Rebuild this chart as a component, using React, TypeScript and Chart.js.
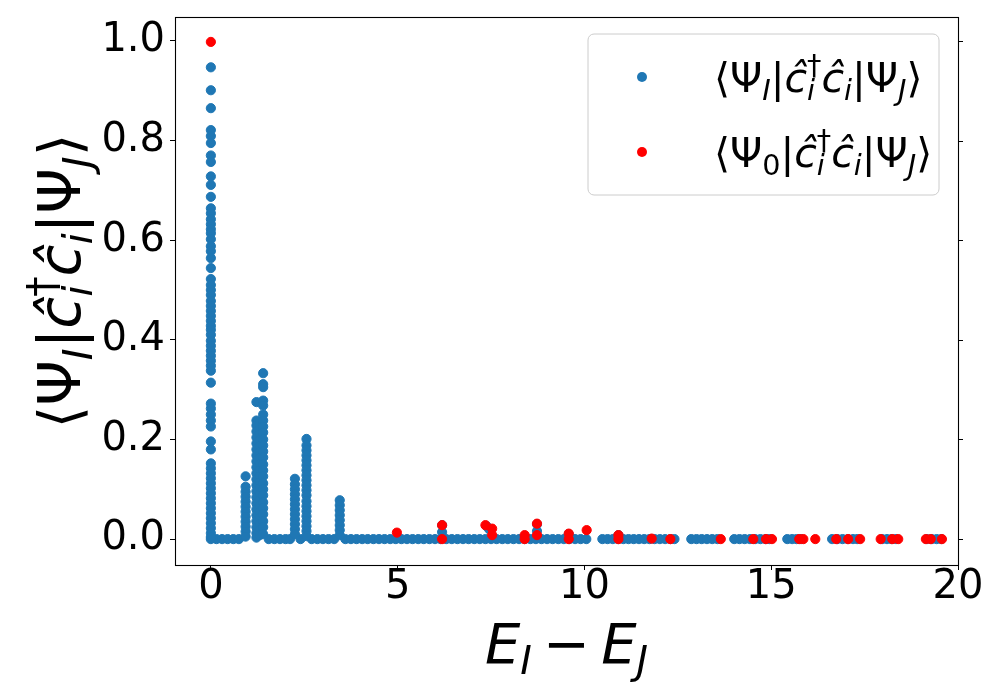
import { useEffect, useRef } from "react";
import { Chart, registerables } from "chart.js";
Chart.register(...registerables);

const BLUE = "#1f77b4";
const RED = "#ff0000";
const FONT = '"DejaVu Sans", sans-serif';

const xTickValues = [0, 5, 10, 15, 20];
const yTickValues = [0, 0.2, 0.4, 0.6, 0.8, 1.0];

// Blue series: vertical columns of matrix elements at given energy differences
const col0Y = [0.947, 0.901, 0.865, 0.821, 0.809, 0.795, 0.770, 0.757, 0.728, 0.711, 0.687, 0.664, 0.654, 0.642, 0.632, 0.622, 0.614, 0.602, 0.588, 0.578, 0.564, 0.544, 0.522, 0.510, 0.500, 0.490, 0.478, 0.468, 0.458, 0.448, 0.438, 0.428, 0.420, 0.410, 0.398, 0.388, 0.378, 0.368, 0.358, 0.348, 0.338, 0.314, 0.272, 0.262, 0.250, 0.238, 0.226, 0.196, 0.180, 0.152, 0.142, 0.132, 0.122, 0.112, 0.102, 0.092, 0.082, 0.072, 0.062, 0.052, 0.042, 0.032, 0.022, 0.012, 0.004];
const peakAY = [0.126, 0.105, 0.095, 0.085, 0.075, 0.065, 0.055, 0.045, 0.035, 0.025, 0.015, 0.005];
const peakB1Y = [0.275, 0.238, 0.228, 0.216, 0.204, 0.192, 0.180, 0.168, 0.156, 0.144, 0.132, 0.120, 0.108, 0.096, 0.084, 0.072, 0.060, 0.048, 0.036, 0.024, 0.012, 0.003];
const peakB2Y = [0.232, 0.220, 0.210, 0.198, 0.186, 0.174, 0.162, 0.150, 0.138, 0.126, 0.114, 0.102, 0.090, 0.078, 0.066, 0.054, 0.042, 0.030, 0.018, 0.008];
const peakB3Y = [0.333, 0.311, 0.305, 0.278, 0.268, 0.250, 0.238, 0.226, 0.214, 0.200, 0.188, 0.176, 0.164, 0.150, 0.138, 0.126, 0.112, 0.100, 0.088, 0.074, 0.062, 0.050, 0.036, 0.024, 0.010];
const peakCY = [0.121, 0.110, 0.100, 0.090, 0.080, 0.070, 0.060, 0.050, 0.040, 0.030, 0.020, 0.010];
const peakDY = [0.201, 0.188, 0.178, 0.168, 0.158, 0.148, 0.138, 0.128, 0.118, 0.108, 0.098, 0.088, 0.076, 0.066, 0.056, 0.046, 0.036, 0.026, 0.016, 0.006];
const peakEY = [0.078, 0.068, 0.058, 0.048, 0.038, 0.028, 0.018, 0.008];
const peakX = { col0: 0, A: 0.93, B1: 1.22, B2: 1.31, B3: 1.40, C: 2.25, D: 2.56, E: 3.45 };

const smallBlueX = [6.19, 6.19, 7.38, 7.45, 8.73, 8.73, 9.58, 10.91];
const smallBlueY = [0.028, 0.014, 0.026, 0.020, 0.030, 0.016, 0.010, 0.008];

// Blue baseline (near-zero elements)
const baseX = [0, 0.15, 0.3, 0.45, 0.6, 0.75, 1.55, 1.7, 1.85, 2.0, 2.12, 2.4, 2.7, 2.85, 3.0, 3.15, 3.3, 3.6, 3.75, 3.9, 4.05, 4.2, 4.35, 4.5, 4.65, 4.8, 4.95, 5.1, 5.25, 5.4, 5.55, 5.7, 5.85, 6.0, 6.15, 6.3, 6.45, 6.6, 6.75, 6.9, 7.05, 7.2, 7.35, 7.5, 7.65, 7.8, 7.95, 8.1, 8.25, 8.4, 8.55, 8.7, 8.85, 9.0, 9.15, 9.3, 9.45, 9.6, 9.75, 9.9, 10.05,
  10.48, 10.62, 10.76, 10.9, 11.04, 11.18, 11.32, 11.46, 11.6, 11.74, 11.88, 12.02, 12.16, 12.3, 12.41,
  12.86, 13.0, 13.14, 13.28, 13.42, 13.56,
  14.01, 14.15, 14.29, 14.43, 14.57, 14.71, 14.85, 14.95,
  15.43, 15.56, 15.68, 15.8,
  16.63, 16.77, 16.91, 17.05, 17.19, 17.3,
  17.97, 18.1, 18.22, 18.34,
  19.17, 19.3, 19.43, 19.55];

// Red series
const redX = [0, 4.98, 6.19, 6.19, 7.35, 7.53, 7.53, 8.40, 8.40, 8.73, 8.73, 9.58, 9.58, 10.06, 10.91, 10.91, 11.80, 12.30, 13.65, 14.52, 14.86, 15.02, 15.75, 15.86, 16.18, 16.74, 17.06, 17.38, 17.93, 18.24, 18.40, 19.14, 19.27, 19.57];
const redY = [0.998, 0.013, 0.028, 0.0, 0.028, 0.021, 0.008, 0.008, 0.0, 0.031, 0.008, 0.011, 0.0, 0.018, 0.008, 0.0, 0.001, 0.0, 0.0, 0.0, 0.0, 0.0, 0.0, 0.0, 0.0, 0.0, 0.0, 0.0, 0.0, 0.0, 0.0, 0.0, 0.0, 0.0];

type Part = { t: string; it?: boolean; sub?: string; subIt?: boolean; sup?: string };

const legendRows: { color: string; parts: Part[] }[] = [
  { color: BLUE, parts: [{ t: "⟨" }, { t: "Ψ", sub: "I", subIt: true }, { t: "|" }, { t: "ĉ", it: true, sup: "†", sub: "i", subIt: true }, { t: "ĉ", it: true, sub: "i", subIt: true }, { t: "|" }, { t: "Ψ", sub: "J", subIt: true }, { t: "⟩" }] },
  { color: RED, parts: [{ t: "⟨" }, { t: "Ψ", sub: "0" }, { t: "|" }, { t: "ĉ", it: true, sup: "†", sub: "i", subIt: true }, { t: "ĉ", it: true, sub: "i", subIt: true }, { t: "|" }, { t: "Ψ", sub: "J", subIt: true }, { t: "⟩" }] },
];
const yTitleParts: Part[] = legendRows[0].parts;
const xTitleParts: Part[] = [{ t: "E", it: true, sub: "I", subIt: true }, { t: "\u2009−\u2009" }, { t: "E", it: true, sub: "J", subIt: true }];

function font(size: number, it?: boolean) {
  return `${it ? "italic " : ""}${size}px ${FONT}`;
}
function partsWidth(ctx: CanvasRenderingContext2D, parts: Part[], size: number) {
  let w = 0;
  for (const p of parts) {
    ctx.font = font(size, p.it);
    w += ctx.measureText(p.t).width;
    let sw = 0;
    if (p.sub) { ctx.font = font(size * 0.7, p.subIt); sw = Math.max(sw, ctx.measureText(p.sub).width); }
    if (p.sup) { ctx.font = font(size * 0.7, false); sw = Math.max(sw, ctx.measureText(p.sup).width); }
    w += sw;
  }
  return w;
}
function drawParts(ctx: CanvasRenderingContext2D, parts: Part[], x: number, y: number, size: number) {
  ctx.textBaseline = "alphabetic";
  ctx.textAlign = "left";
  let cx = x;
  for (const p of parts) {
    ctx.font = font(size, p.it);
    ctx.fillText(p.t, cx, y);
    cx += ctx.measureText(p.t).width;
    let sw = 0;
    if (p.sub) {
      ctx.font = font(size * 0.7, p.subIt);
      ctx.fillText(p.sub, cx, y + size * 0.2);
      sw = Math.max(sw, ctx.measureText(p.sub).width);
    }
    if (p.sup) {
      ctx.font = font(size * 0.7, false);
      ctx.fillText(p.sup, cx, y - size * 0.42);
      sw = Math.max(sw, ctx.measureText(p.sup).width);
    }
    cx += sw;
  }
}

const decorPlugin = {
  id: "decor",
  afterDraw(chart: any) {
    const { ctx, chartArea: a, scales } = chart;
    ctx.save();
    // frame
    ctx.strokeStyle = "#000";
    ctx.lineWidth = 1.1;
    ctx.strokeRect(Math.round(a.left) + 0.5, Math.round(a.top) + 0.5, Math.round(a.right - a.left), Math.round(a.bottom - a.top));
    // right ticks
    ctx.beginPath();
    for (const v of yTickValues) {
      const py = Math.round(scales.y.getPixelForValue(v)) + 0.5;
      ctx.moveTo(a.right, py);
      ctx.lineTo(a.right + 5, py);
    }
    ctx.stroke();
    ctx.fillStyle = "#000";
    // x title
    const xs = 56;
    const xw = partsWidth(ctx, xTitleParts, xs);
    drawParts(ctx, xTitleParts, (a.left + a.right) / 2 - xw / 2, 663, xs);
    // y title
    const ys = 58;
    const yw = partsWidth(ctx, yTitleParts, ys);
    ctx.save();
    ctx.translate(80, 281);
    ctx.rotate(-Math.PI / 2);
    drawParts(ctx, yTitleParts, -yw / 2, 0, ys);
    ctx.restore();
    // legend
    const lx = 588, ly = 34, lw = 351, lh = 161, r = 6;
    ctx.beginPath();
    ctx.moveTo(lx + r, ly);
    ctx.arcTo(lx + lw, ly, lx + lw, ly + lh, r);
    ctx.arcTo(lx + lw, ly + lh, lx, ly + lh, r);
    ctx.arcTo(lx, ly + lh, lx, ly, r);
    ctx.arcTo(lx, ly, lx + lw, ly, r);
    ctx.closePath();
    ctx.fillStyle = "rgba(255,255,255,0.8)";
    ctx.fill();
    ctx.strokeStyle = "#cccccc";
    ctx.lineWidth = 1;
    ctx.stroke();
    legendRows.forEach((row, i) => {
      const cy = 77 + i * 75;
      ctx.beginPath();
      ctx.arc(642, cy, 5, 0, Math.PI * 2);
      ctx.fillStyle = row.color;
      ctx.fill();
      ctx.fillStyle = "#000";
      drawParts(ctx, row.parts, 714, cy + 15, 41);
    });
    ctx.restore();
  },
};

function col(x: number, ys: number[]) {
  return ys.map((y) => ({ x, y }));
}

export default function App() {
  const ref = useRef<HTMLCanvasElement>(null);
  useEffect(() => {
    document.body.style.margin = "0";
    const blue = [
      ...baseX.map((x) => ({ x, y: 0 })),
      ...col(peakX.col0, col0Y),
      ...col(peakX.A, peakAY),
      ...col(peakX.B1, peakB1Y),
      ...col(peakX.B2, peakB2Y),
      ...col(peakX.B3, peakB3Y),
      ...col(peakX.C, peakCY),
      ...col(peakX.D, peakDY),
      ...col(peakX.E, peakEY),
      ...smallBlueX.map((x, i) => ({ x, y: smallBlueY[i] })),
    ];
    const red = redX.map((x, i) => ({ x, y: redY[i] }));
    const tickFont = { family: FONT, size: 40, lineHeight: 0.6 };
    const chart = new Chart(ref.current!, {
      type: "scatter",
      data: {
        datasets: [
          { label: "blue", data: blue, order: 1, backgroundColor: BLUE, borderColor: BLUE, pointRadius: 4.6, pointBorderWidth: 1, pointHoverRadius: 4.6 },
          { label: "red", data: red, order: 0, backgroundColor: RED, borderColor: RED, pointRadius: 4.6, pointBorderWidth: 1, pointHoverRadius: 4.6 },
        ],
      },
      options: {
        animation: false,
        responsive: false,
        devicePixelRatio: 1,
        layout: { padding: { top: 15, right: 42, left: 0, bottom: 0 } },
        plugins: { legend: { display: false }, tooltip: { enabled: false } },
        scales: {
          x: {
            type: "linear",
            min: -0.96,
            max: 20,
            afterBuildTicks: (s: any) => { s.ticks = xTickValues.map((v) => ({ value: v })); },
            afterFit: (s: any) => { s.height = 135; },
            ticks: { font: tickFont, color: "#000", padding: 6, callback: (v: any) => String(v) },
            grid: { drawOnChartArea: false, drawTicks: true, tickLength: 5, color: "#000" },
            border: { display: false },
          },
          y: {
            type: "linear",
            min: -0.052,
            max: 1.048,
            afterBuildTicks: (s: any) => { s.ticks = yTickValues.map((v) => ({ value: v })); },
            afterFit: (s: any) => { s.width = 175; },
            ticks: { font: tickFont, color: "#000", padding: 5, callback: (v: any) => Number(v).toFixed(1) },
            grid: { drawOnChartArea: false, drawTicks: true, tickLength: 5, color: "#000" },
            border: { display: false },
          },
        },
      },
      plugins: [decorPlugin],
    });
    return () => chart.destroy();
  }, []);
  return (
    <div style={{ width: 1000, height: 700, background: "#fff" }}>
      <canvas ref={ref} width={1000} height={700} />
    </div>
  );
}
